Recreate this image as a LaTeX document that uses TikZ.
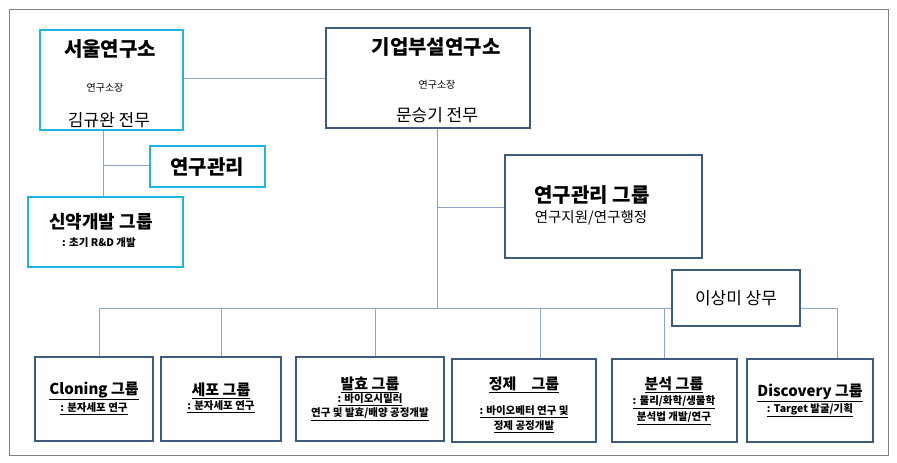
\documentclass[tikz,border=0pt]{standalone}
\usepackage{fontspec}
\setmainfont{Noto Sans CJK KR}
\begin{document}
\begin{tikzpicture}[x=1pt,y=-1pt,
  dbox/.style={draw=boxblue,line width=2.6pt,fill=white},
  cbox/.style={draw=boxcyan,line width=2.6pt,fill=white},
  conn/.style={draw=linecol,line width=0.8pt},
  ttl/.style={font=\bfseries\fontsize{20}{22}\selectfont},
  sm/.style={font=\fontsize{10}{12}\selectfont},
  pers/.style={font=\fontsize{17}{19}\selectfont},
  bt/.style={align=center,font=\bfseries\fontsize{15}{17}\selectfont},
  bs/.style={align=center,font=\bfseries\fontsize{10.5}{12}\selectfont}]
\definecolor{boxblue}{HTML}{3E5A7E}
\definecolor{boxcyan}{HTML}{1EB4E6}
\definecolor{linecol}{HTML}{8CA6C8}
\useasboundingbox (0,0) rectangle (897,463);
\draw[gray,line width=0.6pt] (9,9) rectangle (888,455);
% connectors
\coordinate (s1) at (183,78); \coordinate (s2) at (326,78);
\draw[conn] (s1) -- (s2);
\coordinate (v1) at (103,130); \coordinate (v2) at (103,197); \coordinate (v3) at (103,165); \coordinate (v4) at (150,165);
\draw[conn] (v1) -- (v2); \draw[conn] (v3) -- (v4);
\coordinate (m1) at (437,128); \coordinate (m2) at (437,308); \coordinate (m3) at (437,207); \coordinate (m4) at (505,207);
\draw[conn] (m1) -- (m2); \draw[conn] (m3) -- (m4);
\coordinate (b0) at (99,308); \coordinate (b9) at (837,308);
\draw[conn] (b0) -- (b9);
\foreach \x/\y in {99/357,221/357,375/357,540/359,664/359,837/359}
  \draw[conn] (\x,308) -- (\x,\y);
% top boxes
\draw[cbox] (40,30) rectangle (183,130);
\node[ttl] (seoul) at (110,49) {서울연구소};
\node[sm] (seoulh) at (105,88) {연구소장};
\node[pers] (seoulp) at (109,120) {김규완 전무};
\draw[dbox] (326,28) rectangle (530,128);
\node[ttl] (corp) at (436,47) {기업부설연구소};
\node[sm] (corph) at (437,85) {연구소장};
\node[pers] (corpp) at (437,115) {문승기 전무};
\draw[cbox] (150,146) rectangle (265,187);
\node[ttl] (mgmt) at (207,167) {연구관리};
\draw[cbox] (28,197) rectangle (183,267);
\node[font=\bfseries\fontsize{18}{20}\selectfont] (drug) at (101,222) {신약개발 그룹};
\node[bs] (drugs) at (99,243) {: 초기 R\&D 개발};
\draw[dbox] (505,155) rectangle (702,258);
\node[ttl] (mg) at (592,195) {연구관리 그룹};
\node[font=\fontsize{14.5}{16}\selectfont] (mgs) at (591,218) {연구지원/연구행정};
\draw[dbox] (672,270) rectangle (800,326);
\node[pers] (lee) at (736,298) {이상미 상무};
% bottom boxes
\draw[dbox] (35,357) rectangle (153,441);
\node[bt] (c1) at (94,391) {\underline{Cloning 그룹}};
\node[bs] (c1s) at (94,409) {\underline{: 분자세포 연구}};
\draw[dbox] (161,357) rectangle (281,441);
\node[bt] (c2) at (221,391) {\underline{세포 그룹}};
\node[bs] (c2s) at (221,407) {\underline{: 분자세포 연구}};
\draw[dbox] (296,357) rectangle (444,441);
\node[bt] (c3) at (370,385) {\underline{발효 그룹}};
\node[bs] (c3s) at (370,400) {\underline{: 바이오시밀러}};
\node[bs] (c3t) at (370,414) {\underline{연구 및 발효/배양 공정개발}};
\draw[dbox] (452,359) rectangle (596,442);
\node[bt] (c4) at (524,385) {\underline{정제\quad 그룹}};
\node[bs] (c4s) at (524,412) {\underline{: 바이오베터 연구 및}};
\node[bs] (c4t) at (524,427) {\underline{정제 공정개발}};
\draw[dbox] (612,359) rectangle (737,442);
\node[bt] (c5) at (674,385) {\underline{분석 그룹}};
\node[bs] (c5s) at (674,402) {\underline{: 물리/화학/생물학}};
\node[bs] (c5t) at (674,418) {\underline{분석법 개발/연구}};
\draw[dbox] (747,359) rectangle (873,442);
\node[bt] (c6) at (810,393) {\underline{Discovery 그룹}};
\node[bs] (c6s) at (810,410) {\underline{: Target 발굴/기획}};
\end{tikzpicture}
\end{document}
